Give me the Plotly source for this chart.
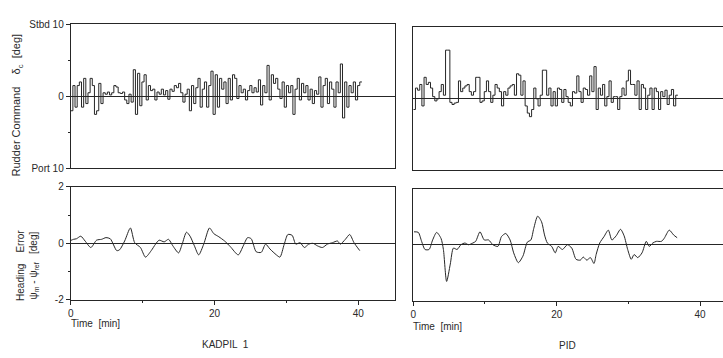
import plotly.graph_objects as go

W, H = 723, 358

# ---------------- data ----------------
DT = 0.3  # rudder command sampling step [min]

rudder_kadpil = [
    -2, 1.5, -1.5, 1.5, 2, -1.5, 2.5, -1, 0.5, 2.5, 1.5, -2.5, -2, 1.8, -1, 0.5,
    0.3, 0.6, 0.2, 0.5, 1.5, 1.3, 0.5, 0.4, 0.6, -0.5, -1, 0.3, -0.8, 3.7, -2.5, 3.2,
    -1.3, 2, 3, -0.5, 1.5, 0.8, 1, -0.5, 0.6, 0.3, 1, 0.2, 0.8, -0.4, 1, 0.7,
    1.5, 1.2, 1.8, 0.5, -0.8, 0.3, 1, -2, 1.5, -1, 1.2, 2.5, -1.5, 1, 2, -1.5,
    1.5, 3.5, -2.5, 3, -1.5, 2.5, 1, 2, -1, 2.5, -0.5, 3, 2.5, -0.3, 1.5, 0.5,
    1, -0.5, 0.8, 1.5, 0.5, 1.2, 0.6, 2.3, -1.2, 1.5, 0.5, 4.3, -0.5, 3, 1.8, 2.5,
    1, -0.3, 2, -1.5, 1.5, 0.5, 1.5, -2.5, 1, 2.5, -0.5, 1.8, 0.5, 1.5, -0.5, 1,
    -1, 0.8, 0.3, 2.7, -1.5, 1.5, 2.5, -1, 2, 1, -1.5, 2, 0.5, 4.5, -3, 2,
    -1.5, 1.5, 0.5, 2, -0.5, 1.5, 2,
]

rudder_pid = [
    -1.5, 1.5, 1.2, 2, -1, 3, 2, 2.3, 1.5, 0.3, -0.3, 0, 1, 2, 0.5, 6.8,
    6.8, -0.5, -0.8, -0.6, -0.5, 2.5, 1, 1.5, 1.8, 2, 1, 0.5, 1, 3, 3, -0.5,
    -0.3, 1, 2.5, 1, -0.5, 0.5, 2, 1.5, 1, -1, 1, 0.5, 1.5, 1.8, 2, 0.5,
    3.5, 3.3, 0.5, 2.5, -1, -2, -2.5, -1.5, 1.5, 0, -1, 0.5, 4, 4, 0.5, 1.5,
    -1, 1, -1, 1.5, 1.3, -0.5, 1.3, 0.3, -0.5, -1, 1, 0.8, 3.2, 1, -0.5, 1.5,
    1.3, 0.5, 3.2, 1, 4.5, -1.5, 1.5, 0.5, 2, -1, 0.3, 2.5, -0.5, 0.3, 0.3, -1.5,
    0.3, 1.5, 0.5, 2.5, 4, 2, 2, 0.5, 2.5, -1.5, 2, 1.5, -1.5, 0.5, 1.5, -1.5,
    1.5, 1, -1.5, 1, 0.3, 1.2, -0.8, 0.5, 1.3, -1, 0.5,
]

head_kadpil_t = [
    0.0, 0.4, 0.8, 1.4, 2.0, 2.8, 3.6, 4.3, 4.9, 5.5, 6.4, 6.8, 7.5, 8.3, 8.9,
    9.7, 10.4, 11.2, 11.8, 12.3, 13.0, 13.6, 14.2, 15.0, 15.5, 16.1, 16.6, 17.2,
    17.8, 18.5, 19.3, 19.9, 20.6, 21.4, 22.2, 23.3, 24.0, 24.6, 25.1, 25.8, 26.5,
    27.1, 27.7, 28.6, 29.1, 29.7, 30.2, 30.8, 31.3, 31.9, 32.5, 33.1, 33.7, 34.3,
    35.0, 35.7, 36.4, 37.1, 37.5, 38.2, 38.8, 39.4, 40.2,
]
head_kadpil_v = [
    0.1, 0.14, 0.16, 0.25, 0.08, -0.15, 0.11, 0.14, 0.2, 0.16, -0.26, -0.23, 0.08,
    0.54, 0.02, -0.15, -0.49, -0.26, -0.03, 0.11, 0.05, 0.14, -0.09, -0.34, -0.03,
    0.39, 0.25, -0.09, -0.41, -0.03, 0.54, 0.34, 0.23, 0.08, -0.12, -0.41, -0.09,
    0.2, 0.16, -0.3, -0.32, -0.03, -0.2, -0.41, -0.49, -0.03, 0.31, 0.28, -0.03,
    0.02, -0.15, -0.03, 0.0, -0.09, -0.15, -0.03, 0.02, 0.08, -0.03, 0.14, 0.31,
    0.02, -0.26,
]

head_pid_t = [
    0.1, 0.7, 1.16, 1.63, 2.2, 2.7, 3.26, 3.86, 4.2, 4.65, 5.16, 5.6, 6.1, 6.65,
    7.2, 7.7, 8.3, 8.7, 9.3, 9.9, 10.5, 11.1, 11.8, 12.3, 12.9, 13.5, 14.0, 14.65,
    15.3, 15.9, 16.4, 16.8, 17.35, 17.9, 18.3, 18.7, 19.3, 19.8, 20.2, 20.8, 21.5,
    22.1, 22.7, 23.3, 23.7, 24.2, 24.7, 25.2, 25.5, 26.0, 26.6, 27.2, 27.7, 28.3,
    28.9, 29.4, 29.9, 30.4, 30.8, 31.3, 31.9, 32.5, 32.9, 33.4, 33.9, 34.6, 35.0,
    35.7, 36.3, 36.8,
]
head_pid_v = [
    0.46, 0.44, 0.12, -0.17, -0.17, 0.17, 0.44, 0.23, -0.17, -1.31, -0.69, -0.12,
    -0.17, 0.0, 0.06, 0.0, 0.06, 0.12, 0.46, 0.17, 0.17, 0.0, -0.06, 0.29, 0.4,
    0.17, -0.29, -0.64, -0.4, 0.09, 0.17, 0.58, 1.02, 0.81, 0.35, 0.06, -0.06,
    -0.29, -0.06, -0.17, 0.0, -0.12, -0.52, -0.55, -0.44, -0.55, -0.46, -0.67,
    -0.35, 0.06, 0.29, 0.52, 0.17, 0.32, 0.55, 0.32, -0.17, -0.52, -0.35, -0.46,
    -0.29, 0.12, -0.06, 0.06, 0.12, 0.12, 0.23, 0.52, 0.35, 0.25,
]

rudder_ticks = [-10, 0, 10]
rudder_ticktext = ["Port 10", "0", "Stbd 10"]
head_ticks = [-2, 0, 2]
head_ticktext = ["-2", "0", "2"]
time_ticks = [0, 20, 40]
time_ticktext = ["0", "20", "40"]

# ---------------- helpers ----------------
def px_x(p):
    return p / W

def px_y(p):
    return 1 - p / H

def step_xy(vals):
    xs = [i * DT for i in range(len(vals))] + [len(vals) * DT]
    ys = list(vals) + [vals[-1]]
    return xs, ys

INK = "#262626"
FONT = dict(family="Liberation Sans, Arial, sans-serif", size=10, color="#2a2a2a")
TFONT = dict(family="Liberation Sans, Arial, sans-serif", size=11, color="#2a2a2a")

fig = go.Figure()

xk, yk = step_xy(rudder_kadpil)
xp, yp = step_xy(rudder_pid)
fig.add_trace(go.Scatter(x=xk, y=yk, mode="lines", line=dict(shape="hv", color=INK, width=1),
                         xaxis="x", yaxis="y"))
fig.add_trace(go.Scatter(x=xp, y=yp, mode="lines", line=dict(shape="hv", color=INK, width=1),
                         xaxis="x2", yaxis="y2"))
fig.add_trace(go.Scatter(x=head_kadpil_t, y=head_kadpil_v, mode="lines",
                         line=dict(shape="spline", smoothing=0.7, color=INK, width=1),
                         xaxis="x3", yaxis="y3"))
fig.add_trace(go.Scatter(x=head_pid_t, y=head_pid_v, mode="lines",
                         line=dict(shape="spline", smoothing=0.7, color=INK, width=1),
                         xaxis="x4", yaxis="y4"))

LX = [px_x(68), px_x(394)]
RX = [px_x(412), 1.0]
XR_L = [0, (394 - 68) / 7.22]
XR_R = [0, (723 - 412) / 7.2]

common_axis = dict(showgrid=False, linecolor=INK, linewidth=1, tickfont=FONT,
                   tickcolor=INK)

def xax(domain, rng, anchor, labels, mirror):
    d = dict(common_axis, domain=domain, range=rng, anchor=anchor, showline=True,
             mirror=mirror, zeroline=False)
    if labels:
        d.update(tickmode="array", tickvals=time_ticks, ticktext=time_ticktext,
                 ticks="outside", ticklen=4,
                 minor=dict(tickmode="array", tickvals=[10, 30], ticks="outside", ticklen=2,
                            tickcolor=INK))
    else:
        d.update(showticklabels=False, ticks="")
    return d

def yax(domain, rng, anchor, tv, tt, minor_vals, labels, mirror):
    d = dict(common_axis, domain=domain, range=rng, anchor=anchor, showline=True,
             mirror=mirror, zeroline=True, zerolinecolor=INK, zerolinewidth=1,
             tickmode="array", tickvals=tv, ticktext=tt, ticks="outside", ticklen=4,
             showticklabels=labels,
             minor=dict(tickmode="array", tickvals=minor_vals, ticks="outside", ticklen=2,
                        tickcolor=INK))
    if not labels:
        d.update(ticks="", minor=dict(ticks=""))
    return d

TOP_L = [px_y(168), px_y(19)]
TOP_R = [px_y(170), px_y(22)]
BOT_L = [px_y(304), px_y(187)]
BOT_R = [px_y(305), px_y(189)]

fig.update_layout(
    width=W, height=H, margin=dict(l=0, r=0, t=0, b=0),
    paper_bgcolor="white", plot_bgcolor="white", showlegend=False,
    font=FONT,
    xaxis=xax(LX, XR_L, "y", False, True),
    yaxis=yax(TOP_L, [-10, 10], "x", rudder_ticks, rudder_ticktext, [-5, 5], True, True),
    xaxis2=xax(RX, XR_R, "y2", False, True),
    yaxis2=yax(TOP_R, [-10, 10], "x2", rudder_ticks, rudder_ticktext, [-5, 5], False, False),
    xaxis3=xax(LX, XR_L, "y3", True, True),
    yaxis3=yax(BOT_L, [-2, 2], "x3", head_ticks, head_ticktext, [-1, 1], True, True),
    xaxis4=xax(RX, XR_R, "y4", True, True),
    yaxis4=yax(BOT_R, [-2, 2], "x4", head_ticks, head_ticktext, [-1, 1], False, False),
)

ann = [
    dict(x=px_x(14), y=px_y(102), text="Rudder Command    δ<sub>c</sub>  [deg]",
         textangle=-90, font=TFONT),
    dict(x=px_x(24), y=px_y(268),
         text="Heading    Error<br>ψ<sub>m</sub> - ψ<sub>ref</sub>   [deg]", textangle=-90),
    dict(x=px_x(66), y=px_y(329), text="Time  [min]", xanchor="left"),
    dict(x=px_x(410), y=px_y(332), text="Time  [min]", xanchor="left"),
    dict(x=px_x(198), y=px_y(350), text="KADPIL  1", xanchor="left"),
    dict(x=px_x(567), y=px_y(351), text="PID"),
]
for a in ann:
    a.update(xref="paper", yref="paper", showarrow=False)
    a.setdefault("font", FONT)
    a.setdefault("xanchor", "center")
    a.setdefault("yanchor", "middle")
fig.update_layout(annotations=ann)

fig.write_html("out.html")
